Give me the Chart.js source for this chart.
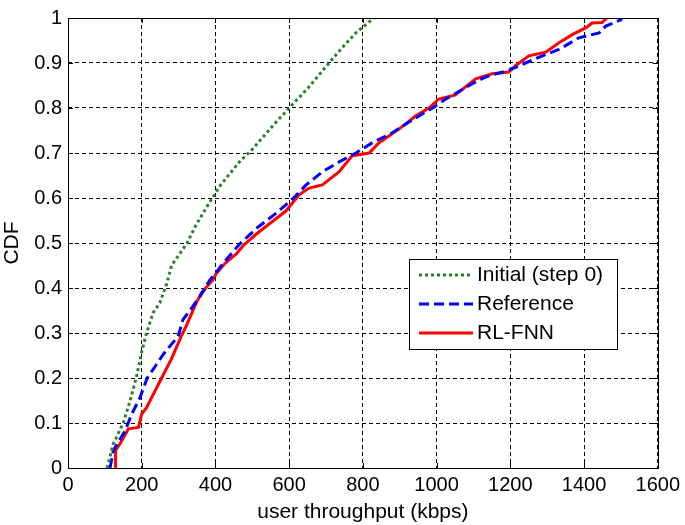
<!DOCTYPE html>
<html>
<head>
<meta charset="utf-8">
<script src="https://cdn.jsdelivr.net/npm/chart.js@4.4.1/dist/chart.umd.min.js"></script>
<style>
  html, body { margin: 0; padding: 0; background: #fff; }
  canvas { display: block; }
</style>
</head>
<body>
<canvas id="cdf" width="685" height="525"></canvas>
<script>
// CDF levels and throughput (kbps)
const initialY = [0, 0.054, 0.1, 0.148, 0.2, 0.258, 0.3, 0.345, 0.367, 0.41, 0.45, 0.476, 0.5, 0.541, 0.585, 0.63, 0.68, 0.709, 0.76, 0.8, 0.847, 0.9, 0.934, 0.967, 1.0];
const initialX = [106, 123, 150, 168, 185, 200, 213, 231, 249, 268, 281, 303, 323, 348, 380, 415, 465, 501, 555, 600, 654, 708, 744, 781, 830];

const referenceY = [0, 0.039, 0.083, 0.12, 0.156, 0.2, 0.252, 0.293, 0.33, 0.345, 0.381, 0.418, 0.43, 0.454, 0.498, 0.535, 0.567, 0.6, 0.629, 0.658, 0.68, 0.7, 0.723, 0.745, 0.774, 0.8, 0.82, 0.854, 0.869, 0.884, 0.9, 0.916, 0.93, 0.956, 0.967, 0.982, 0.996, 1.0];
const referenceX = [114, 123, 155, 173, 195, 215, 258, 299, 312, 326, 358, 385, 398, 420, 466, 515, 566, 612, 646, 690, 735, 781, 826, 880, 935, 989, 1025, 1097, 1133, 1196, 1241, 1287, 1332, 1386, 1441, 1459, 1500, 1502];

const rlfnnY = [0, 0.039, 0.054, 0.087, 0.09, 0.12, 0.134, 0.163, 0.2, 0.243, 0.294, 0.316, 0.367, 0.389, 0.418, 0.432, 0.454, 0.476, 0.494, 0.52, 0.545, 0.571, 0.607, 0.622, 0.629, 0.658, 0.694, 0.7, 0.723, 0.753, 0.782, 0.8, 0.82, 0.829, 0.865, 0.876, 0.88, 0.894, 0.916, 0.924, 0.945, 0.963, 0.978, 0.989, 0.99, 1.0];
const rlfnnX = [129, 129, 141, 164, 191, 200, 213, 231, 254, 281, 308, 321, 348, 362, 393, 402, 425, 457, 475, 511, 550, 591, 627, 654, 690, 735, 771, 817, 844, 898, 943, 979, 1006, 1051, 1106, 1151, 1196, 1214, 1250, 1296, 1332, 1368, 1404, 1422, 1449, 1462];

const xTicks = [0, 200, 400, 600, 800, 1000, 1200, 1400, 1600];
const yTicks = [0, 0.1, 0.2, 0.3, 0.4, 0.5, 0.6, 0.7, 0.8, 0.9, 1];

const FONT = 'Arial, "Liberation Sans", sans-serif';

function pts(xs, ys) {
  return xs.map((x, i) => ({ x: x, y: ys[i] }));
}

// matlab style short ticks on the inside of the box, plus the box itself
const innerTicks = {
  id: 'innerTicks',
  afterDatasetsDraw(chart) {
    const { ctx, chartArea: a, scales } = chart;
    const len = 5;
    ctx.save();
    ctx.strokeStyle = '#000';
    ctx.lineWidth = 1;
    ctx.setLineDash([]);
    ctx.beginPath();
    xTicks.forEach(v => {
      const px = Math.round(scales.x.getPixelForValue(v)) + 0.5;
      ctx.moveTo(px, a.bottom); ctx.lineTo(px, a.bottom - len);
      ctx.moveTo(px, a.top); ctx.lineTo(px, a.top + len);
    });
    yTicks.forEach(v => {
      const py = Math.round(scales.y.getPixelForValue(v)) + 0.5;
      ctx.moveTo(a.left, py); ctx.lineTo(a.left + len, py);
      ctx.moveTo(a.right, py); ctx.lineTo(a.right - len, py);
    });
    ctx.stroke();
    ctx.strokeRect(Math.round(a.left) + 0.5, Math.round(a.top) + 0.5, Math.round(a.right - a.left), Math.round(a.bottom - a.top));
    ctx.restore();
  }
};

// legend box inside the plot, lower right
const boxLegend = {
  id: 'boxLegend',
  afterDraw(chart) {
    const { ctx, chartArea: a } = chart;
    const bx = a.left + 341, by = a.top + 241, bw = 208, bh = 90;
    ctx.save();
    ctx.fillStyle = '#fff';
    ctx.fillRect(bx, by, bw, bh);
    ctx.strokeStyle = '#000';
    ctx.lineWidth = 1;
    ctx.setLineDash([]);
    ctx.strokeRect(bx + 0.5, by + 0.5, bw, bh);
    ctx.font = '21px ' + FONT;
    ctx.textBaseline = 'middle';
    chart.data.datasets.forEach((ds, i) => {
      const cy = by + 16 + i * 29;
      ctx.strokeStyle = ds.borderColor;
      ctx.lineWidth = ds.borderWidth;
      ctx.setLineDash(ds.borderDash || []);
      ctx.beginPath();
      ctx.moveTo(bx + 10, cy);
      ctx.lineTo(bx + 64, cy);
      ctx.stroke();
      ctx.fillStyle = '#000';
      ctx.fillText(ds.label, bx + 68, cy);
    });
    ctx.restore();
  }
};

new Chart(document.getElementById('cdf'), {
  type: 'line',
  data: {
    datasets: [
      {
        label: 'Initial (step 0)',
        data: pts(initialX, initialY),
        borderColor: 'rgb(40,130,40)',
        borderWidth: 3,
        borderDash: [3, 3],
        pointRadius: 0,
        tension: 0
      },
      {
        label: 'Reference',
        data: pts(referenceX, referenceY),
        borderColor: 'rgb(0,0,255)',
        borderWidth: 3,
        borderDash: [10, 5],
        pointRadius: 0,
        tension: 0
      },
      {
        label: 'RL-FNN',
        data: pts(rlfnnX, rlfnnY),
        borderColor: 'rgb(255,0,0)',
        borderWidth: 3,
        pointRadius: 0,
        tension: 0
      }
    ]
  },
  options: {
    responsive: false,
    animation: false,
    layout: { padding: { top: 10, right: 26, left: 0, bottom: 0 } },
    plugins: {
      legend: { display: false },
      tooltip: { enabled: false }
    },
    scales: {
      x: {
        type: 'linear',
        min: 0,
        max: 1600,
        afterBuildTicks(scale) { scale.ticks = xTicks.map(v => ({ value: v })); },
        afterFit(scale) { scale.height = 57; },
        border: { display: false, dash: [4, 3] },
        grid: { color: '#000', lineWidth: 1, drawTicks: false },
        ticks: {
          color: '#000', font: { family: FONT, size: 20 }, padding: 5,
          maxRotation: 0, autoSkip: false,
          callback: v => String(v)
        },
        title: { display: true, text: 'user throughput (kbps)', color: '#000', font: { family: FONT, size: 21 }, padding: { top: 0, bottom: 0 } }
      },
      y: {
        type: 'linear',
        min: 0,
        max: 1,
        afterBuildTicks(scale) { scale.ticks = yTicks.map(v => ({ value: v })); },
        afterFit(scale) { scale.width = 68; },
        border: { display: false, dash: [4, 3] },
        grid: { color: '#000', lineWidth: 1, drawTicks: false },
        ticks: {
          color: '#000', font: { family: FONT, size: 20 }, padding: 6, autoSkip: false,
          callback: v => String(v)
        },
        title: { display: true, text: 'CDF', color: '#000', font: { family: FONT, size: 21 }, padding: 0 }
      }
    }
  },
  plugins: [innerTicks, boxLegend]
});
</script>
</body>
</html>
